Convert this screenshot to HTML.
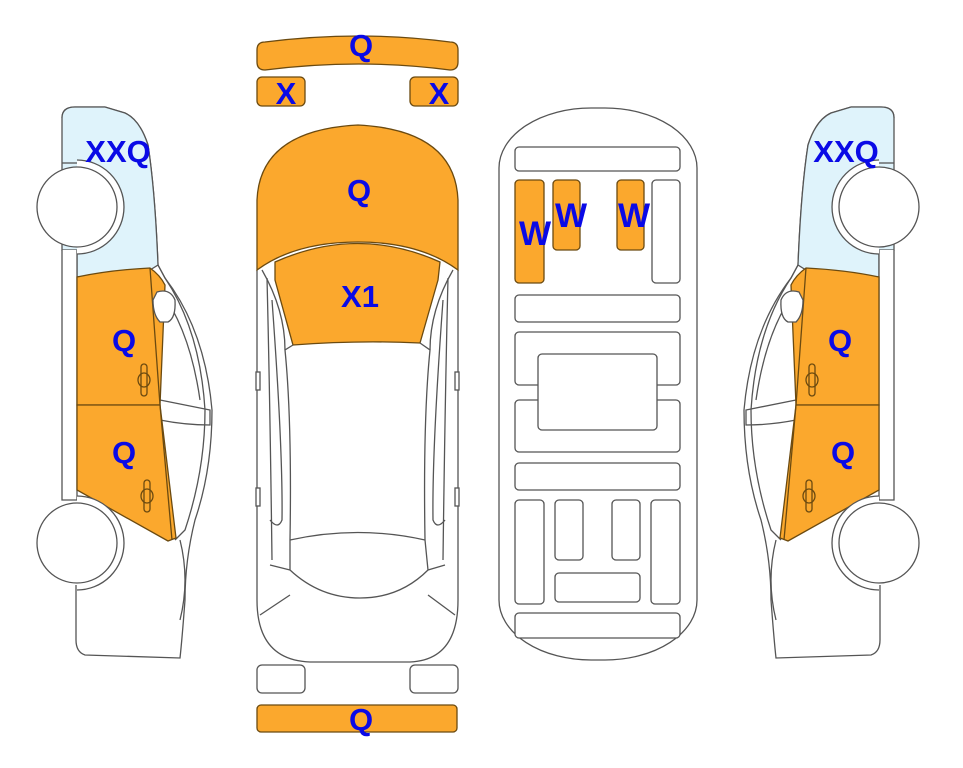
<!DOCTYPE html>
<html><head><meta charset="utf-8"><style>
html,body{margin:0;padding:0;background:#fff;}
svg{display:block}
.t{font-family:"Liberation Sans",sans-serif;font-weight:bold;font-size:31px;fill:#0a0ae6;text-anchor:middle}
.w{font-size:34px}
</style></head><body>
<svg width="963" height="768" viewBox="0 0 963 768" xmlns="http://www.w3.org/2000/svg">
<defs>
<g id="side" stroke="#555" stroke-width="1.3" fill="none">
  <path d="M62,118 Q62,107 75,107 L105,107 Q115,110 125,113 Q140,120 148,145 Q155,190 158,265 L165,278 Q205,330 212,410 Q212,470 195,520 Q185,560 185,600 Q182,640 180,658 L85,655 Q76,652 76,640 L76,585" fill="#fff"/>
  <path d="M62,118 Q62,107 75,107 L105,107 Q115,110 125,113 Q140,120 148,145 Q155,190 158,265 L150,270 L77,277 L77,250 L62,250 Z" fill="#dff3fb"/>
  <line x1="62" y1="163" x2="77" y2="163"/>
  <path d="M62,250 L62,500 L77,500 L77,250" fill="#fff"/>
  <path d="M158,265 L165,278 Q200,330 205,410 Q205,470 185,530 L175,540"/>
  <path d="M160,290 Q190,330 200,400"/>
  <path d="M160,400 Q185,405 210,410 L210,425 Q185,425 160,420"/>
  <path d="M180,540 Q190,580 180,620"/>
  <path d="M77,277 Q110,270 150,268 Q160,275 165,285 L160,405 L77,405 Z" fill="#fba82d" stroke="#6b4a10"/>
  <path d="M77,405 L160,405 Q168,470 176,538 L168,541 L77,490 Z" fill="#fba82d" stroke="#6b4a10"/>
  <path d="M150,268 L160,405 L172,540" stroke="#6b4a10"/>
  <path d="M157,292 Q170,288 175,300 Q176,318 168,322 L160,322 Q153,315 153,300 Z" fill="#fff"/>
  <rect x="141" y="364" width="6" height="32" rx="3" fill="none" stroke="#6b4a10"/>
  <ellipse cx="144" cy="380" rx="6" ry="7" stroke="#6b4a10"/>
  <rect x="144" y="480" width="6" height="32" rx="3" fill="none" stroke="#6b4a10"/>
  <ellipse cx="147" cy="496" rx="6" ry="7" stroke="#6b4a10"/>
  <path d="M77,160 A47,47 0 0 1 77,254" fill="#fff"/>
  <circle cx="77" cy="207" r="40" fill="#fff"/>
  <path d="M77,496 A47,47 0 0 1 77,590" fill="#fff"/>
  <circle cx="77" cy="543" r="40" fill="#fff"/>
</g>
</defs>
<use href="#side"/>
<use href="#side" transform="translate(956,0) scale(-1,1)"/>

<g stroke="#555" stroke-width="1.3">
  <path d="M257,50 Q257,42 265,42 Q360,30 450,42 Q458,42 458,50 L458,62 Q458,70 450,70 Q360,58 265,70 Q257,70 257,62 Z" fill="#fba82d" stroke="#6b4a10"/>
  <rect x="257" y="77" width="48" height="29" rx="5" fill="#fba82d" stroke="#6b4a10"/>
  <rect x="410" y="77" width="48" height="29" rx="5" fill="#fba82d" stroke="#6b4a10"/>
  <path d="M257,270 L257,460 L257,600 Q257,660 310,662 L410,662 Q458,660 458,600 L458,270" fill="#fff"/>
  <path d="M257,270 L257,200 Q260,130 358,125 Q455,130 458,200 L458,270 Q420,242 358,242 Q295,242 257,270 Z" fill="#fba82d" stroke="#6b4a10"/>
  <path d="M275,262 Q358,225 440,262 L438,280 L420,343 Q358,340 293,345 L275,280 Z" fill="#fba82d" stroke="#6b4a10"/>
  <path d="M293,345 L285,350 Q292,420 290,540 L290,570 Q320,598 360,598 Q400,598 428,570 L425,540 Q423,420 430,350 L420,343" fill="none"/>
  <path d="M290,540 Q358,525 425,540" fill="none"/>
  <path d="M262,270 Q285,310 285,350 M453,270 Q430,310 430,350" fill="none"/>
  <path d="M267,278 Q270,400 272,560 M448,278 Q445,400 443,560" fill="none"/>
  <path d="M272,300 Q283,450 282,520 Q278,530 270,520 M443,300 Q432,450 433,520 Q437,530 445,520" fill="none"/>
  <path d="M270,565 L290,570 M445,565 L428,570 M260,615 L290,595 M455,615 L428,595" fill="none"/>
  <rect x="256" y="372" width="4" height="18" fill="#fff"/><rect x="455" y="372" width="4" height="18" fill="#fff"/>
  <rect x="256" y="488" width="4" height="18" fill="#fff"/><rect x="455" y="488" width="4" height="18" fill="#fff"/>
  <rect x="257" y="665" width="48" height="28" rx="5" fill="#fff"/>
  <rect x="410" y="665" width="48" height="28" rx="5" fill="#fff"/>
  <rect x="257" y="705" width="200" height="27" rx="4" fill="#fba82d" stroke="#6b4a10"/>
</g>

<g stroke="#555" stroke-width="1.3" fill="#fff">
  <rect x="499" y="108" width="198" height="552" rx="92" ry="60"/>
  <rect x="515" y="147" width="165" height="24" rx="4"/>
  <rect x="515" y="180" width="29" height="103" rx="4" fill="#fba82d" stroke="#6b4a10"/>
  <rect x="553" y="180" width="27" height="70" rx="4" fill="#fba82d" stroke="#6b4a10"/>
  <rect x="617" y="180" width="27" height="70" rx="4" fill="#fba82d" stroke="#6b4a10"/>
  <rect x="652" y="180" width="28" height="103" rx="4"/>
  <rect x="515" y="295" width="165" height="27" rx="4"/>
  <rect x="515" y="332" width="165" height="53" rx="4"/>
  <rect x="515" y="400" width="165" height="52" rx="4"/>
  <rect x="538" y="354" width="119" height="76" rx="4"/>
  <rect x="515" y="463" width="165" height="27" rx="4"/>
  <rect x="515" y="500" width="29" height="104" rx="4"/>
  <rect x="555" y="500" width="28" height="60" rx="4"/>
  <rect x="612" y="500" width="28" height="60" rx="4"/>
  <rect x="651" y="500" width="29" height="104" rx="4"/>
  <rect x="555" y="573" width="85" height="29" rx="4"/>
  <rect x="515" y="613" width="165" height="25" rx="4"/>
</g>

<text class="t" x="118" y="162">XXQ</text>
<text class="t" x="124" y="351">Q</text>
<text class="t" x="124" y="463">Q</text>
<text class="t" x="846" y="162">XXQ</text>
<text class="t" x="840" y="351">Q</text>
<text class="t" x="843" y="463">Q</text>
<text class="t" x="361" y="56">Q</text>
<text class="t" x="286" y="104">X</text>
<text class="t" x="439" y="104">X</text>
<text class="t" x="359" y="201">Q</text>
<text class="t" x="360" y="307">X1</text>
<text class="t" x="361" y="730">Q</text>
<text class="t w" x="535" y="245">W</text>
<text class="t w" x="571" y="227">W</text>
<text class="t w" x="634" y="227">W</text>
</svg>
</body></html>
